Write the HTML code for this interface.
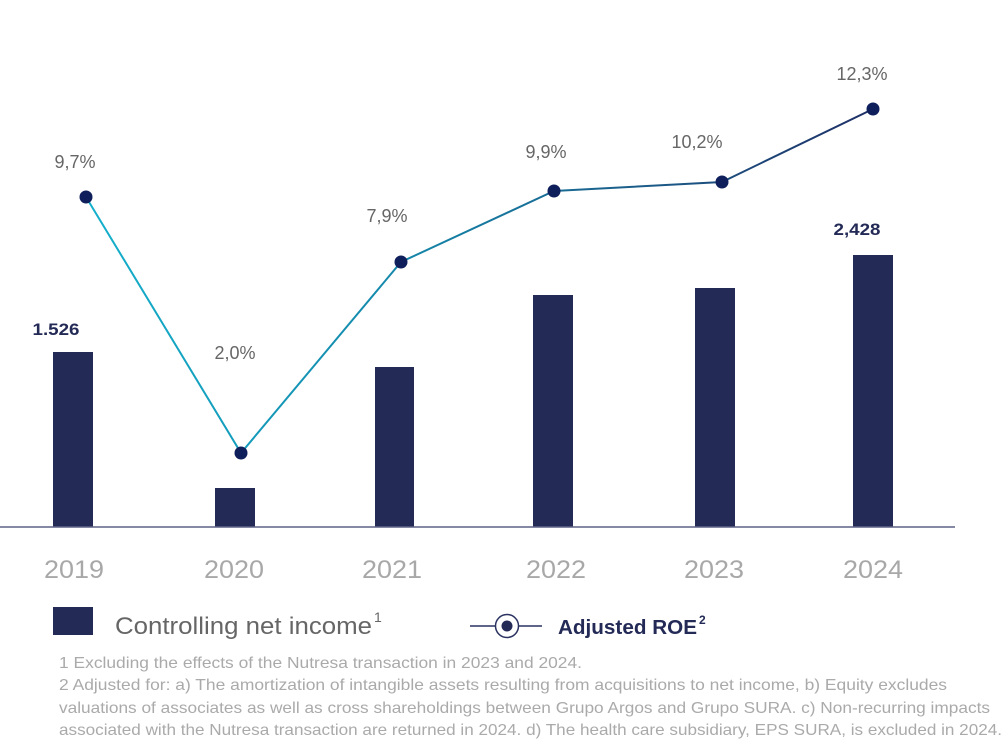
<!DOCTYPE html>
<html>
<head>
<meta charset="utf-8">
<style>
  html,body{margin:0;padding:0;background:#fff;}
  svg{display:block;}
  text{font-family:"Liberation Sans", sans-serif;}
</style>
</head>
<body>
<svg width="1002" height="748" viewBox="0 0 1002 748" xmlns="http://www.w3.org/2000/svg">
  <defs>
    <linearGradient id="lg" gradientUnits="userSpaceOnUse" x1="86" y1="0" x2="873" y2="0">
      <stop offset="0" stop-color="#14b0cc"/>
      <stop offset="0.4" stop-color="#1587aa"/>
      <stop offset="0.75" stop-color="#1c5684"/>
      <stop offset="1" stop-color="#1e2f66"/>
    </linearGradient>
  </defs>
  <rect width="1002" height="748" fill="#fff"/>

  <!-- bars -->
  <g fill="#232a56">
    <rect x="53" y="352" width="40" height="175"/>
    <rect x="215" y="488" width="40" height="39"/>
    <rect x="375" y="367" width="39" height="160"/>
    <rect x="533" y="295" width="40" height="232"/>
    <rect x="695" y="288" width="40" height="239"/>
    <rect x="853" y="255" width="40" height="272"/>
  </g>

  <!-- baseline -->
  <line x1="0" y1="527" x2="955" y2="527" stroke="#5f6285" stroke-width="1.6"/>

  <!-- line -->
  <polyline points="86,197 241,453 401,262 554,191 722,182 873,109" fill="none" stroke="url(#lg)" stroke-width="2"/>
  <g fill="#0e1f5c">
    <circle cx="86" cy="197" r="6.5"/>
    <circle cx="241" cy="453" r="6.5"/>
    <circle cx="401" cy="262" r="6.5"/>
    <circle cx="554" cy="191" r="6.5"/>
    <circle cx="722" cy="182" r="6.5"/>
    <circle cx="873" cy="109" r="6.5"/>
  </g>

  <!-- percent labels -->
  <g fill="#666" font-size="18" text-anchor="middle">
    <text x="75" y="168">9,7%</text>
    <text x="235" y="359">2,0%</text>
    <text x="387" y="222">7,9%</text>
    <text x="546" y="158">9,9%</text>
    <text x="697" y="148">10,2%</text>
    <text x="862" y="80">12,3%</text>
  </g>

  <!-- value labels -->
  <g fill="#232a56" font-size="17" font-weight="bold" text-anchor="middle">
    <text x="56" y="335" textLength="47" lengthAdjust="spacingAndGlyphs">1.526</text>
    <text x="857" y="235" textLength="47" lengthAdjust="spacingAndGlyphs">2,428</text>
  </g>

  <!-- year labels -->
  <g fill="#a8a8a8" font-size="25" text-anchor="middle">
    <text x="74" y="578" textLength="60" lengthAdjust="spacingAndGlyphs">2019</text>
    <text x="234" y="578" textLength="60" lengthAdjust="spacingAndGlyphs">2020</text>
    <text x="392" y="578" textLength="60" lengthAdjust="spacingAndGlyphs">2021</text>
    <text x="556" y="578" textLength="60" lengthAdjust="spacingAndGlyphs">2022</text>
    <text x="714" y="578" textLength="60" lengthAdjust="spacingAndGlyphs">2023</text>
    <text x="873" y="578" textLength="60" lengthAdjust="spacingAndGlyphs">2024</text>
  </g>

  <!-- legend -->
  <rect x="53" y="607" width="40" height="28" fill="#232a56"/>
  <text x="115" y="634" fill="#666" font-size="24" textLength="257" lengthAdjust="spacingAndGlyphs">Controlling net income</text>
  <text x="374" y="622" fill="#666" font-size="14">1</text>

  <line x1="470" y1="626" x2="542" y2="626" stroke="#2a3260" stroke-width="1.5"/>
  <circle cx="507" cy="626" r="11.5" fill="#fff" stroke="#2a3260" stroke-width="1.5"/>
  <circle cx="507" cy="626" r="5.5" fill="#232a56"/>
  <text x="558" y="634" fill="#232a56" font-size="20" font-weight="bold" textLength="139" lengthAdjust="spacingAndGlyphs">Adjusted ROE</text>
  <text x="699" y="624" fill="#232a56" font-size="12" font-weight="bold">2</text>

  <!-- footnotes -->
  <g fill="#aaaaaa" font-size="16">
    <text x="59" y="668" textLength="523" lengthAdjust="spacingAndGlyphs">1 Excluding the effects of the Nutresa transaction in 2023 and 2024.</text>
    <text x="59" y="690" textLength="888" lengthAdjust="spacingAndGlyphs">2 Adjusted for: a) The amortization of intangible assets resulting from acquisitions to net income, b) Equity excludes</text>
    <text x="59" y="713" textLength="931" lengthAdjust="spacingAndGlyphs">valuations of associates as well as cross shareholdings between Grupo Argos and Grupo SURA. c) Non-recurring impacts</text>
    <text x="59" y="735" textLength="943" lengthAdjust="spacingAndGlyphs">associated with the Nutresa transaction are returned in 2024. d) The health care subsidiary, EPS SURA, is excluded in 2024.</text>
  </g>
</svg>
</body>
</html>
